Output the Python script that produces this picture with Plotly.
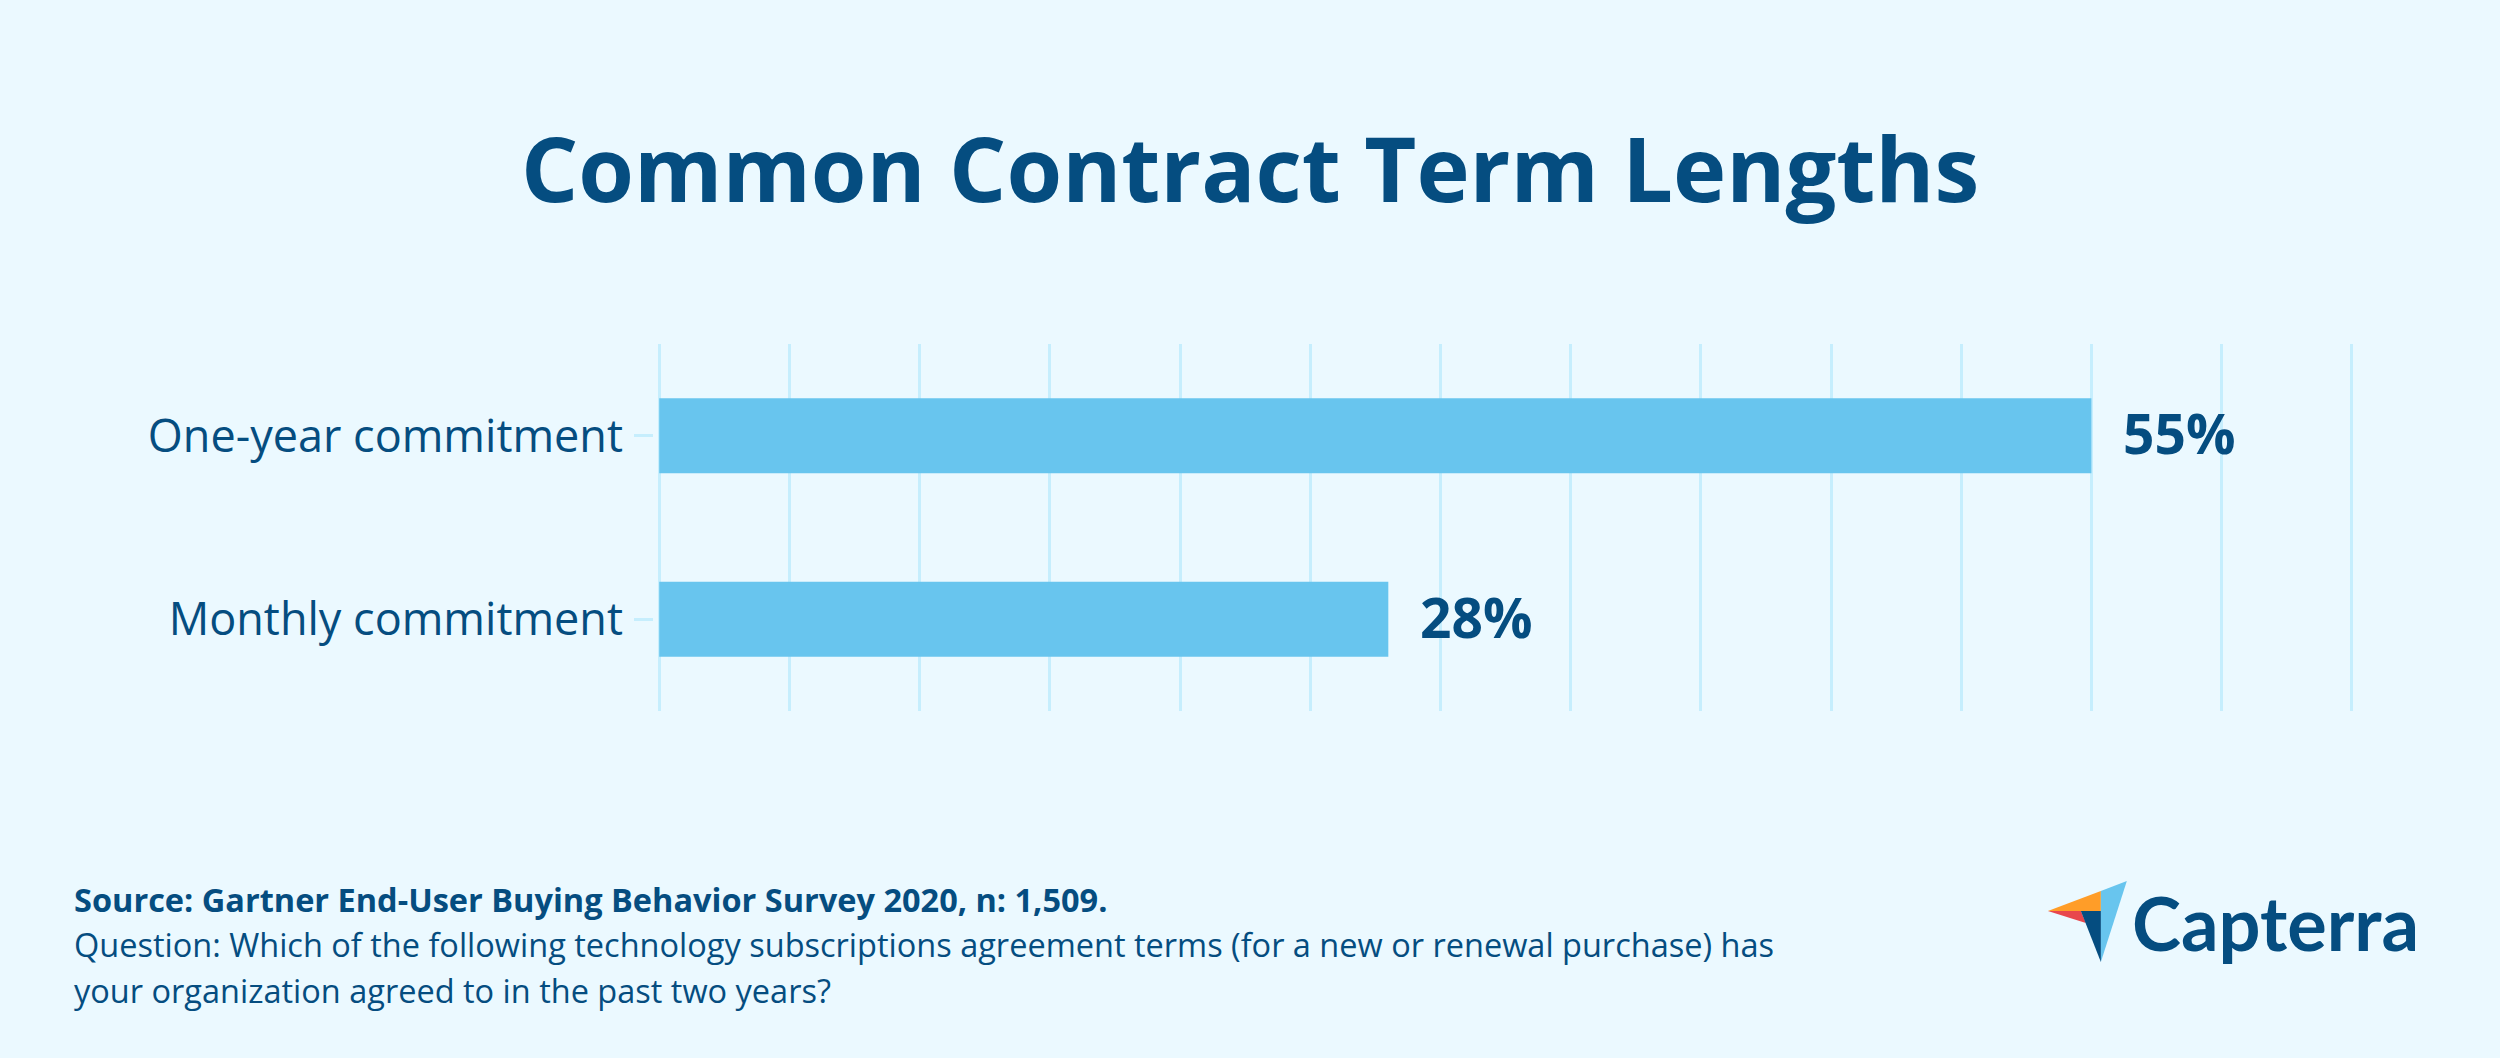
import plotly.graph_objects as go

categories = ["One-year commitment", "Monthly commitment"]
values = [55, 28]
tick_vals = list(range(0, 70, 5))
title_text = "Common Contract Term Lengths"
source_lines = [
    "<b>Source: Gartner End-User Buying Behavior Survey 2020, n: 1,509.</b>",
    "Question: Which of the following technology subscriptions agreement terms (for a new or renewal purchase) has",
    "your organization agreed to in the past two years?",
]

W, H = 2500, 1058
X0, X65 = 659, 2352
PAD = 0.2
UNIT = (X65 - X0) / 65
L, R, T, B = X0 - PAD * UNIT, X65 + PAD * UNIT, 344, 711
NAVY = "#054d80"
BG = "#ebf9ff"
GRID = "#c6eefd"
BAR = "#68c5ee"
FONT = "Open Sans"


def px(x):
    return (x - L) / (R - L)


def py(y):
    return (B - y) / (B - T)


def poly(points, color):
    d = "M " + " L ".join(f"{px(x):.5f},{py(y):.5f}" for x, y in points) + " Z"
    return dict(type="path", xref="paper", yref="paper", path=d,
                fillcolor=color, line_width=0, layer="above")


fig = go.Figure(go.Bar(
    x=values, y=categories, orientation="h", width=0.41,
    marker=dict(color=BAR, line_width=0), hoverinfo="skip"))

anns = [dict(x=v, y=c, text=f"<b>{v}%</b>", xref="x", yref="y", xanchor="left", yanchor="middle",
             xshift=29.5, yshift=3, showarrow=False, font=dict(family=FONT, size=55, color=NAVY))
        for c, v in zip(categories, values)]
anns.append(dict(x=px(1250), y=py(166.5), xref="paper", yref="paper", xanchor="center", yanchor="middle",
                 text=f"<b>{title_text}</b>", showarrow=False,
                 font=dict(family=FONT, size=90, color=NAVY)))
for line, yc in zip(source_lines, [899, 944, 990]):
    anns.append(dict(x=px(71.5), y=py(yc), xref="paper", yref="paper", xanchor="left", yanchor="middle",
                     text=line, showarrow=False, font=dict(family=FONT, size=32.5, color=NAVY)))
anns.append(dict(x=px(2130), y=py(922), xref="paper", yref="paper", xanchor="left", yanchor="middle",
                 text="<b>Capterra</b>", showarrow=False, font=dict(family="Lato", size=74, color=NAVY)))

shapes = [
    poly([(2048, 911), (2101, 891), (2101, 911)], "#ff9d28"),
    poly([(2101, 891), (2127, 881), (2101, 962)], "#68c5ee"),
    poly([(2048, 911), (2081, 911), (2086, 923)], "#e8474d"),
    poly([(2081, 911), (2101, 911), (2101, 962)], NAVY),
]

fig.update_layout(
    width=W, height=H, autosize=False,
    margin=dict(l=L, r=W - R, t=T, b=H - B, pad=0),
    paper_bgcolor=BG, plot_bgcolor=BG,
    showlegend=False, annotations=anns, shapes=shapes,
    font=dict(family=FONT, color=NAVY),
    xaxis=dict(range=[-PAD, 65 + PAD], tickvals=tick_vals, showticklabels=False, showgrid=True,
               gridcolor=GRID, gridwidth=3, zeroline=False, showline=False, ticks=""),
    yaxis=dict(categoryorder="array", categoryarray=categories, range=[1.5, -0.5],
               showgrid=False, zeroline=False, showline=False, ticks="outside", ticklen=19,
               tickwidth=3, tickcolor=GRID, ticklabelstandoff=2,
               tickfont=dict(family=FONT, size=45, color=NAVY)),
)
fig.write_html("out.html", config={"displayModeBar": False},
               post_script=f"document.body.style.margin='0';document.body.style.background='{BG}';document.documentElement.style.overflow='hidden';")
